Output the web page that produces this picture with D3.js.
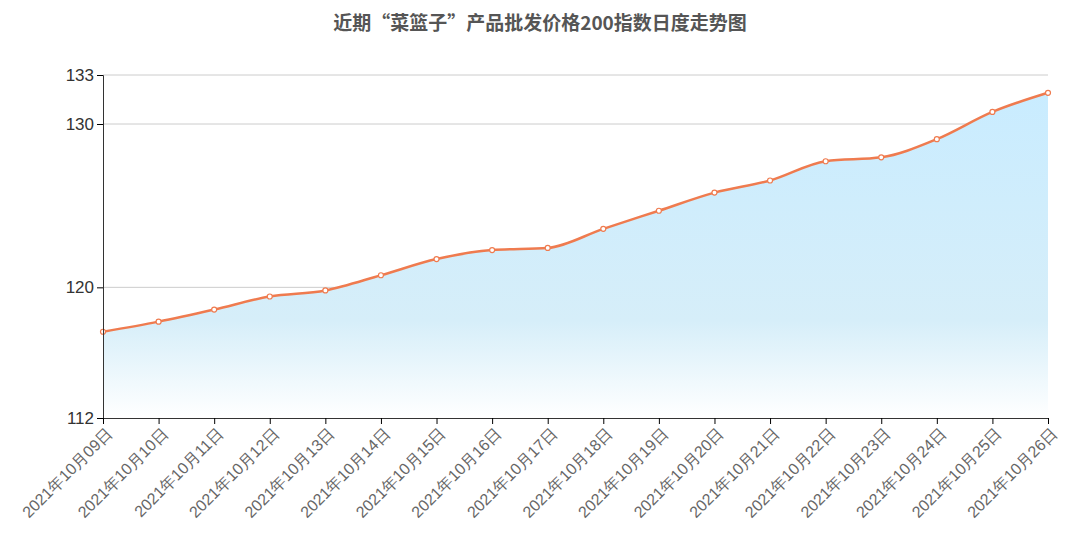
<!DOCTYPE html>
<html><head><meta charset="utf-8">
<script src="https://cdn.jsdelivr.net/npm/d3@7"></script>
<style>body{margin:0;background:#fff;font-family:"Noto Sans CJK SC","Noto Sans",sans-serif;}</style>
</head><body><div id="chart"></div>
<script>
const title = "近期“菜篮子”产品批发价格200指数日度走势图";
const dates = ["2021年10月09日","2021年10月10日","2021年10月11日","2021年10月12日","2021年10月13日","2021年10月14日","2021年10月15日","2021年10月16日","2021年10月17日","2021年10月18日","2021年10月19日","2021年10月20日","2021年10月21日","2021年10月22日","2021年10月23日","2021年10月24日","2021年10月25日","2021年10月26日"];
const values = [117.28,117.9,118.64,119.44,119.81,120.74,121.73,122.28,122.41,123.58,124.69,125.8,126.54,127.72,127.96,129.07,130.74,131.91];
const yTicks = [112,120,130,133];

const W = 1080, H = 551, m = {l:103, r:32, t:75, b:133};
const svg = d3.select("#chart").append("svg").attr("width", W).attr("height", H);
const x = d3.scalePoint().domain(dates).range([m.l, W - m.r]);
const y = d3.scaleLinear().domain([112,133]).range([H - m.b, m.t]);

const defs = svg.append("defs");
const g = defs.append("linearGradient").attr("id","fillg").attr("x1",0).attr("y1",0).attr("x2",0).attr("y2",1);
g.append("stop").attr("offset","0").attr("stop-color","#c9ecff");
g.append("stop").attr("offset","0.7").attr("stop-color","#d6eef9");
g.append("stop").attr("offset","1").attr("stop-color","#ffffff");

svg.append("text").attr("x", W/2).attr("y", 30).attr("text-anchor","middle")
  .attr("font-size", 19).attr("font-weight","bold").attr("fill","#555").text(title);

svg.append("g").selectAll("line").data(yTicks).join("line")
  .attr("x1", m.l).attr("x2", W - m.r).attr("y1", d=>y(d)).attr("y2", d=>y(d))
  .attr("stroke","#ccc");

const curve = d3.curveMonotoneX;
svg.append("path").datum(values).attr("fill","url(#fillg)")
  .attr("d", d3.area().x((d,i)=>x(dates[i])).y0(y(112)).y1(d=>y(d)).curve(curve));
svg.append("path").datum(values).attr("fill","none").attr("stroke","#ef7b4f").attr("stroke-width",2.5)
  .attr("d", d3.line().x((d,i)=>x(dates[i])).y(d=>y(d)).curve(curve));
svg.append("g").selectAll("circle").data(values).join("circle")
  .attr("cx",(d,i)=>x(dates[i])).attr("cy",d=>y(d)).attr("r",2.5)
  .attr("fill","#fff").attr("stroke","#ef7b4f").attr("stroke-width",1.2);

const ya = svg.append("g").attr("transform",`translate(${m.l},0)`)
  .call(d3.axisLeft(y).tickValues(yTicks).tickSize(6));
ya.selectAll("text").attr("font-size",17).attr("fill","#333");
ya.select(".domain").attr("stroke","#333");

const xa = svg.append("g").attr("transform",`translate(0,${H - m.b})`)
  .call(d3.axisBottom(x).tickSize(6));
xa.select(".domain").attr("stroke","#333");
xa.selectAll("text").attr("font-size",16).attr("fill","#666")
  .attr("text-anchor","end").attr("dx","-0.3em").attr("dy","0.6em")
  .attr("transform","rotate(-45)");
</script></body></html>
